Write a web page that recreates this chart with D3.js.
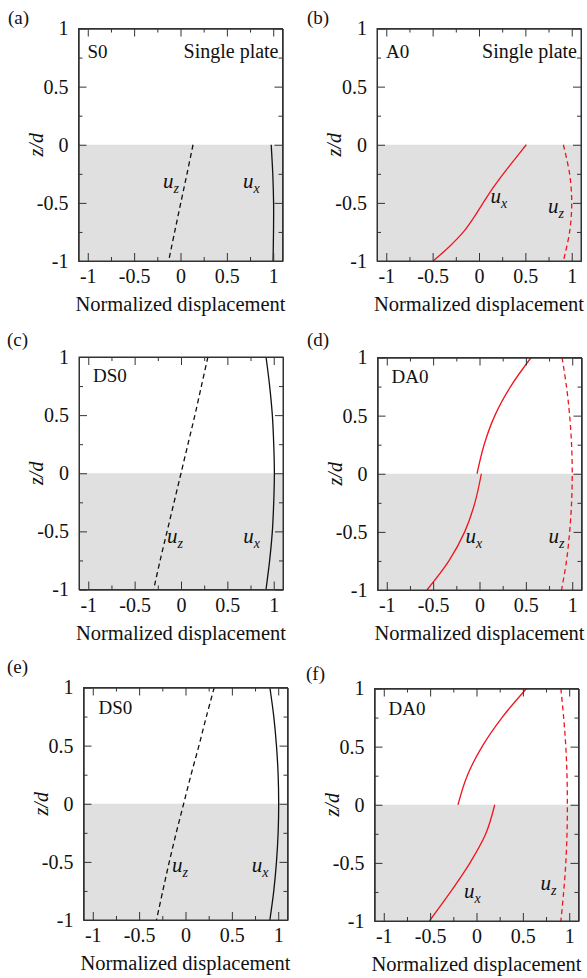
<!DOCTYPE html>
<html><head><meta charset="utf-8">
<script src="https://cdn.jsdelivr.net/npm/d3@7"></script>
<style>body{margin:0;background:#fff} svg{display:block}</style>
</head><body>
<svg id="chart" width="587" height="978"></svg>
<script>
// ---------- data ----------
const xTicks = [-1, -0.5, 0, 0.5, 1];
const xTickLabels = ["-1", "-0.5", "0", "0.5", "1"];
const yTicks = [-1, -0.5, 0, 0.5, 1];
const yTickLabels = ["-1", "-0.5", "0", "0.5", "1"];
const xMinor = [-0.75, -0.25, 0.25, 0.75];
const yMinor = [-0.75, -0.25, 0.25, 0.75];
const xAxisTitle = "Normalized displacement";
const yAxisTitle = "z/d";
const panelTags = ["(a)", "(b)", "(c)", "(d)", "(e)", "(f)"];
const modeNames = ["S0", "A0", "DS0", "DA0", "DS0", "DA0"];
const singleText = "Single plate";

// z positions
const zLower = [0, -0.25, -0.5, -0.75, -1];
const zUpper = [1, 0.75, 0.5, 0.25, 0];
const zFull = [1, 0.75, 0.5, 0.25, 0, -0.25, -0.5, -0.75, -1];
const zLowerFine = [0, -0.125, -0.25, -0.375, -0.5, -0.625, -0.75, -0.875, -1];

// (a) S0 single plate
const aUz = [0.135, 0.07, 0.003, -0.063, -0.128];
const aUx = [0.978, 0.995, 1.004, 1.003, 0.998];
// (b) A0 single plate
const bUx = [0.51, 0.385, 0.262, 0.147, 0.045, -0.055, -0.168, -0.318, -0.495];
const bUz = [0.91, 0.977, 1.0, 0.977, 0.91];
// (c) DS0
const cUz = [0.29, 0.22, 0.15, 0.075, 0.0, -0.075, -0.15, -0.225, -0.295];
const cUx = [0.917, 0.956, 0.985, 1.0, 1.007, 1.0, 0.985, 0.956, 0.917];
// (d) DA0
const dUxUpper = [0.557, 0.335, 0.165, 0.05, -0.027];
const dUxLower = [0.02, -0.05, -0.16, -0.33, -0.567];
const dUz = [0.89, 0.938, 0.972, 0.993, 1.0, 0.993, 0.972, 0.938, 0.885];
// (e) DS0
const eUz = [0.31, 0.225, 0.145, 0.06, -0.02, -0.1, -0.175, -0.245, -0.313];
const eUx = [0.91, 0.952, 0.981, 0.999, 1.005, 0.999, 0.981, 0.952, 0.91];
// (f) DA0
const fUxUpper = [0.54, 0.275, 0.06, -0.1, -0.2];
const fUxLower = [0.197, 0.1, -0.07, -0.28, -0.508];
const fUz = [0.91, 0.94, 0.963, 0.976, 0.98, 0.976, 0.963, 0.94, 0.91];

// ---------- layout ----------
const W = 204, H = 232.5;
const BLACK = "#111", RED = "#f0141e";
const FONT = "'Liberation Serif','Times New Roman',serif";

const panels = [
  {left: 78.5, top: 28.5, single: true, color: BLACK, modeDx: 9, modeDy: 29,
   tag: [8, 24],
   curves: [{z: zLower, x: aUz, dash: true}, {z: zLower, x: aUx, dash: false}],
   labels: [{sub: "z", x: -0.19, z: -0.375}, {sub: "x", x: 0.675, z: -0.375}]},
  {left: 377, top: 28.5, single: true, color: RED, modeDx: 9, modeDy: 29,
   tag: [307, 24],
   curves: [{z: zLowerFine, x: bUx, dash: false}, {z: zLower, x: bUz, dash: true}],
   labels: [{sub: "x", x: 0.125, z: -0.505}, {sub: "z", x: 0.745, z: -0.59}]},
  {left: 79, top: 357, single: false, color: BLACK, modeDx: 14, modeDy: 25,
   tag: [7, 346],
   curves: [{z: zFull, x: cUz, dash: true}, {z: zFull, x: cUx, dash: false}],
   labels: [{sub: "z", x: -0.15, z: -0.6}, {sub: "x", x: 0.67, z: -0.6}]},
  {left: 377.5, top: 357.5, single: false, color: RED, modeDx: 14, modeDy: 25,
   tag: [307, 346],
   curves: [{z: zUpper, x: dUxUpper, dash: false}, {z: zLower, x: dUxLower, dash: false},
            {z: zFull, x: dUz, dash: true}],
   labels: [{sub: "x", x: -0.15, z: -0.595}, {sub: "z", x: 0.745, z: -0.595}]},
  {left: 83.5, top: 687.5, single: false, color: BLACK, modeDx: 15, modeDy: 26,
   tag: [7, 673],
   curves: [{z: zFull, x: eUz, dash: true}, {z: zFull, x: eUx, dash: false}],
   labels: [{sub: "z", x: -0.145, z: -0.59}, {sub: "x", x: 0.715, z: -0.59}]},
  {left: 374.5, top: 688.5, single: false, color: RED, modeDx: 14, modeDy: 26.5,
   tag: [306, 680],
   curves: [{z: zUpper, x: fUxUpper, dash: false}, {z: zLower, x: fUxLower, dash: false},
            {z: zFull, x: fUz, dash: true}],
   labels: [{sub: "x", x: -0.135, z: -0.805}, {sub: "z", x: 0.69, z: -0.73}]}
];

const svg = d3.select("#chart");

panels.forEach((p, i) => {
  const x = d3.scaleLinear().domain([-1.1, 1.1]).range([0, W]);
  const y = d3.scaleLinear().domain([-1, 1]).range([H, 0]);
  const g = svg.append("g").attr("transform", `translate(${p.left},${p.top})`);

  // shaded lower plate region
  g.append("rect")
    .attr("x", x(-1.1)).attr("y", y(0))
    .attr("width", x(1.1) - x(-1.1)).attr("height", y(-1) - y(0))
    .attr("fill", "#e0e0e0");

  // curves
  const line = d3.line().x(d => x(d[0])).y(d => y(d[1])).curve(d3.curveCatmullRom.alpha(0.5));
  p.curves.forEach(c => {
    const pts = c.z.map((z, k) => [c.x[k], z]);
    g.append("path").attr("d", line(pts))
      .attr("fill", "none").attr("stroke", p.color).attr("stroke-width", 1.3)
      .attr("stroke-dasharray", c.dash ? "5,3.5" : null);
  });

  // axes
  const styleAxis = sel => {
    sel.selectAll("path,line").attr("stroke", "#333").attr("stroke-width", 1);
    sel.selectAll("text").attr("fill", "#111").style("font-family", FONT).style("font-size", "20px");
  };
  const fmtX = (d) => xTickLabels[xTicks.indexOf(d)];
  const fmtY = (d) => yTickLabels[yTicks.indexOf(d)];

  g.append("g").attr("transform", `translate(0,${H})`)
    .call(d3.axisBottom(x).tickValues(xTicks).tickFormat(fmtX).tickSizeInner(-8).tickSizeOuter(0).tickPadding(8))
    .call(styleAxis);
  g.append("g").attr("transform", `translate(0,${H})`)
    .call(d3.axisBottom(x).tickValues(xMinor).tickFormat("").tickSizeInner(-4).tickSizeOuter(0))
    .call(styleAxis);
  g.append("g")
    .call(d3.axisTop(x).tickValues(xTicks).tickFormat("").tickSizeInner(-8).tickSizeOuter(0))
    .call(styleAxis);
  g.append("g")
    .call(d3.axisTop(x).tickValues(xMinor).tickFormat("").tickSizeInner(-4).tickSizeOuter(0))
    .call(styleAxis);
  g.append("g")
    .call(d3.axisLeft(y).tickValues(yTicks).tickFormat(fmtY).tickSizeInner(-8).tickSizeOuter(0).tickPadding(10))
    .call(styleAxis);
  g.append("g")
    .call(d3.axisLeft(y).tickValues(yMinor).tickFormat("").tickSizeInner(-4).tickSizeOuter(0))
    .call(styleAxis);
  g.append("g").attr("transform", `translate(${W},0)`)
    .call(d3.axisRight(y).tickValues(yTicks).tickFormat("").tickSizeInner(-8).tickSizeOuter(0))
    .call(styleAxis);
  g.append("g").attr("transform", `translate(${W},0)`)
    .call(d3.axisRight(y).tickValues(yMinor).tickFormat("").tickSizeInner(-4).tickSizeOuter(0))
    .call(styleAxis);

  // frame
  g.append("rect").attr("x", 0).attr("y", 0).attr("width", W).attr("height", H)
    .attr("fill", "none").attr("stroke", "#333").attr("stroke-width", 1);

  // axis titles
  g.append("text").attr("x", W / 2).attr("y", H + 50).attr("text-anchor", "middle")
    .style("font-family", FONT).style("font-size", "20.5px").attr("fill", "#111").text(xAxisTitle);
  g.append("text").attr("transform", `translate(-36,${H / 2}) rotate(-90)`).attr("text-anchor", "middle")
    .style("font-family", FONT).style("font-size", "20px").style("font-style", "italic").attr("fill", "#111")
    .text(yAxisTitle);

  // mode label
  g.append("text").attr("x", p.modeDx).attr("y", p.modeDy)
    .style("font-family", FONT).style("font-size", "19px").attr("fill", "#111").text(modeNames[i]);
  if (p.single) {
    g.append("text").attr("x", W - 4).attr("y", 29).attr("text-anchor", "end")
      .style("font-family", FONT).style("font-size", "20px").attr("fill", "#111").text(singleText);
  }

  // curve labels
  p.labels.forEach(l => {
    const t = g.append("text").attr("x", x(l.x)).attr("y", y(l.z))
      .style("font-family", FONT).style("font-style", "italic").style("font-size", "21px").attr("fill", "#111");
    t.append("tspan").text("u");
    t.append("tspan").attr("dy", 5).style("font-size", "14px").text(l.sub);
  });

  // panel tag
  svg.append("text").attr("x", p.tag[0]).attr("y", p.tag[1])
    .style("font-family", FONT).style("font-size", "19px").attr("fill", "#111").text(panelTags[i]);
});
</script>
</body></html>
